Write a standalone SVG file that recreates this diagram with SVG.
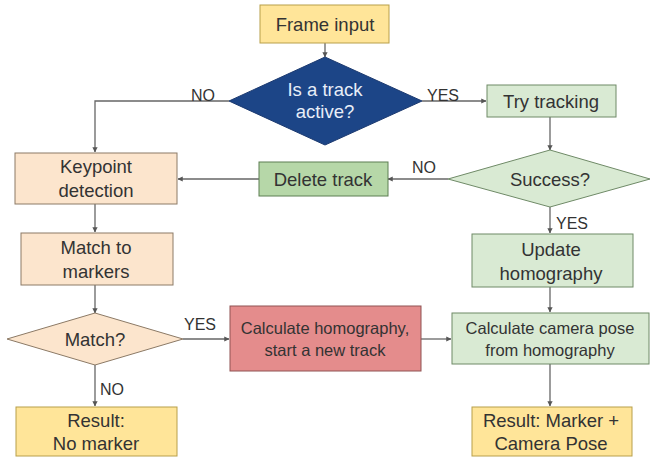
<svg xmlns="http://www.w3.org/2000/svg" width="651" height="458" viewBox="0 0 651 458">
<style>
text{font-family:"Liberation Sans",Arial,sans-serif;font-size:18.5px;fill:#333;text-anchor:middle}
.lbl{font-size:16px}
.sm{font-size:16.5px}
.yel{fill:#ffe599;stroke:#b89f4a;stroke-width:1}
.peach{fill:#fce5cd;stroke:#8c7a66;stroke-width:1}
.lg{fill:#d9ead3;stroke:#6f8a67;stroke-width:1}
.mg{fill:#b6d7a8;stroke:#5d7e52;stroke-width:1}
.red{fill:#e48c8c;stroke:#8f5252;stroke-width:1}
.c{fill:none;stroke:#666;stroke-width:1.3}
</style>
<defs>
<marker id="a" viewBox="0 0 6 6" refX="5.5" refY="3" markerWidth="4" markerHeight="4" orient="auto"><path d="M0,0L6,3L0,6z" fill="#555"/></marker>
</defs>
<rect width="651" height="458" fill="#fff"/>
<g id="connectors">
<path class="c" d="M325,43V57" marker-end="url(#a)"/>
<path class="c" d="M229,101H95V152" marker-end="url(#a)"/>
<path class="c" d="M422,101H486" marker-end="url(#a)"/>
<path class="c" d="M550,117V150" marker-end="url(#a)"/>
<path class="c" d="M448,179H388" marker-end="url(#a)"/>
<path class="c" d="M259,179H178" marker-end="url(#a)"/>
<path class="c" d="M95,204V232" marker-end="url(#a)"/>
<path class="c" d="M95,285V313" marker-end="url(#a)"/>
<path class="c" d="M183,339H229" marker-end="url(#a)"/>
<path class="c" d="M95,365V406" marker-end="url(#a)"/>
<path class="c" d="M550,207V233" marker-end="url(#a)"/>
<path class="c" d="M550,287V312" marker-end="url(#a)"/>
<path class="c" d="M421,339H451" marker-end="url(#a)"/>
<path class="c" d="M550,364V406" marker-end="url(#a)"/>
<text class="lbl" x="203" y="101">NO</text>
<text class="lbl" x="443" y="101">YES</text>
<text class="lbl" x="424" y="173">NO</text>
<text class="lbl" x="572" y="229">YES</text>
<text class="lbl" x="200" y="330">YES</text>
<text class="lbl" x="112" y="395">NO</text>
</g>
<g id="frame-input"><rect class="yel" x="260" y="5" width="129" height="38"/><text x="325" y="31">Frame input</text></g>
<g id="track-active"><polygon points="325,57 422,101 325,145 229,101" fill="#1c4587" stroke="#1c3a70"/><text x="325" y="96" style="fill:#e8eef8">Is a track</text><text x="325" y="118" style="fill:#e8eef8">active?</text></g>
<g id="try-tracking"><rect class="lg" x="487" y="85" width="129" height="32"/><text x="551" y="108">Try tracking</text></g>
<g id="success"><polygon class="lg" points="550,150 650,179 550,207 448,179"/><text x="550" y="186">Success?</text></g>
<g id="delete-track"><rect class="mg" x="259" y="162" width="129" height="34"/><text x="323" y="186">Delete track</text></g>
<g id="keypoint"><rect class="peach" x="15" y="153" width="162" height="51"/><text x="96" y="173">Keypoint</text><text x="96" y="197">detection</text></g>
<g id="match-markers"><rect class="peach" x="21" y="233" width="152" height="52"/><text x="96" y="254">Match to</text><text x="96" y="278">markers</text></g>
<g id="match"><polygon class="peach" points="95,313 183,339 95,365 7,339"/><text x="95" y="346">Match?</text></g>
<g id="calc-homography"><rect class="red" x="230" y="306" width="191" height="65"/><text class="sm" x="325" y="334">Calculate homography,</text><text class="sm" x="325" y="356">start a new track</text></g>
<g id="update-homography"><rect class="lg" x="472" y="234" width="161" height="53"/><text x="551" y="256">Update</text><text x="551" y="280">homography</text></g>
<g id="camera-pose"><rect class="lg" x="452" y="313" width="197" height="51"/><text class="sm" x="550" y="334">Calculate camera pose</text><text class="sm" x="550" y="356">from homography</text></g>
<g id="no-marker"><rect class="yel" x="16" y="407" width="161" height="49"/><text x="96" y="427">Result:</text><text x="96" y="450">No marker</text></g>
<g id="marker-pose"><rect class="yel" x="472" y="407" width="160" height="49"/><text x="551" y="427">Result: Marker +</text><text x="551" y="450">Camera Pose</text></g>
</svg>
